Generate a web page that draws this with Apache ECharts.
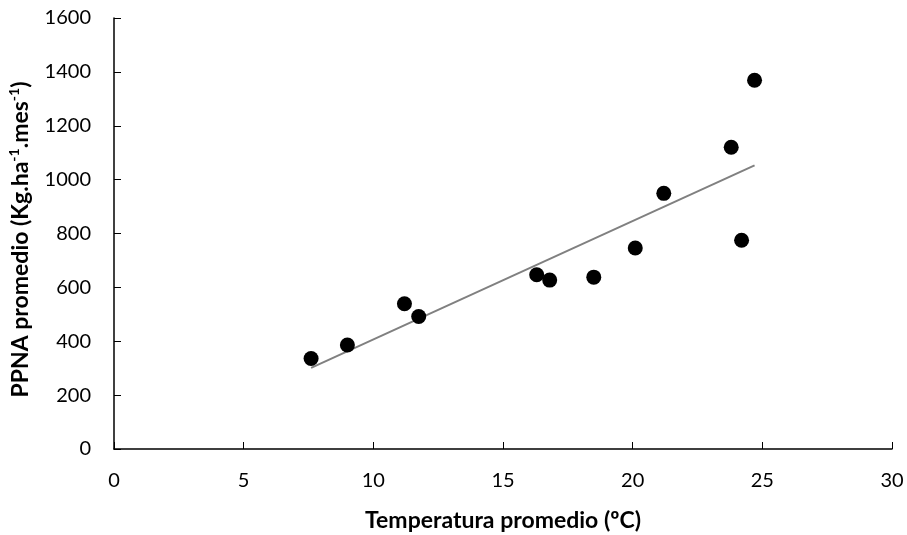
<!DOCTYPE html>
<html>
<head>
<meta charset="utf-8">
<script src="https://cdn.jsdelivr.net/npm/echarts@6/dist/echarts.min.js"></script>
<style>
  html, body { margin: 0; padding: 0; background: #fff; }
  #chart { width: 907px; height: 535px; }
</style>
</head>
<body>
<div id="chart"></div>
<script>
  // temperatura promedio (ºC) y PPNA promedio
  const temperatura = [7.6, 9.0, 11.2, 11.75, 16.3, 16.8, 18.5, 20.1, 21.2, 23.8, 24.2, 24.7];
  const ppna = [336, 386, 539, 492, 647, 627, 638, 746, 949, 1120, 775, 1369];

  const puntos = temperatura.map((t, i) => [t, ppna[i]]);

  // recta de tendencia lineal (minimos cuadrados)
  const n = temperatura.length;
  const mx = temperatura.reduce((a, b) => a + b, 0) / n;
  const my = ppna.reduce((a, b) => a + b, 0) / n;
  let sxy = 0, sxx = 0;
  for (let i = 0; i < n; i++) {
    sxy += (temperatura[i] - mx) * (ppna[i] - my);
    sxx += (temperatura[i] - mx) * (temperatura[i] - mx);
  }
  const pendiente = sxy / sxx;
  const ordenada = my - pendiente * mx;
  const xMin = Math.min(...temperatura);
  const xMax = Math.max(...temperatura);
  const tendencia = [
    [xMin, ordenada + pendiente * xMin],
    [xMax, ordenada + pendiente * xMax]
  ];

  const font = 'Lato, "Open Sans", sans-serif';
  const chart = echarts.init(document.getElementById('chart'));
  chart.setOption({
    animation: false,
    grid: { left: 114, right: 15, top: 18, bottom: 86, containLabel: false, outerBoundsMode: 'none' },
    xAxis: {
      type: 'value',
      min: 0,
      max: 30,
      interval: 5,
      name: 'Temperatura promedio (ºC)',
      nameLocation: 'middle',
      nameGap: 60,
      nameTextStyle: { color: '#000', fontSize: 23, fontWeight: 'bold', fontFamily: font },
      axisLine: { lineStyle: { color: '#000', width: 1.5 } },
      axisTick: { show: true, inside: true, length: 7, lineStyle: { color: '#000' } },
      axisLabel: { color: '#000', fontSize: 20, fontFamily: font, margin: 22 },
      splitLine: { show: false }
    },
    yAxis: {
      type: 'value',
      min: 0,
      max: 1600,
      interval: 200,
      name: '{t|PPNA promedio (Kg.ha}{s|-1}{t|.mes}{s|-1}{t|)}',
      nameLocation: 'middle',
      nameRotate: 90,
      nameGap: 80,
      nameTextStyle: {
        color: '#000',
        fontFamily: font,
        padding: [0, 12, 0, 0],
        rich: {
          t: { fontSize: 23, fontWeight: 'bold', fontFamily: font, color: '#000', lineHeight: 27 },
          s: { fontSize: 14, fontWeight: 'bold', fontFamily: font, color: '#000', verticalAlign: 'top', lineHeight: 27, padding: [0, 0, 12, 0] }
        }
      },
      axisLine: { show: true, lineStyle: { color: '#000', width: 1.5 } },
      axisTick: { show: true, inside: true, length: 7, lineStyle: { color: '#000' } },
      axisLabel: {
        color: '#000',
        fontSize: 20,
        fontFamily: font,
        margin: 23,
        formatter: (v) => String(v)
      },
      splitLine: { show: false }
    },
    series: [
      {
        type: 'line',
        data: tendencia,
        symbol: 'none',
        lineStyle: { color: '#808080', width: 2 },
        z: 1
      },
      {
        type: 'scatter',
        data: puntos,
        symbolSize: 15,
        itemStyle: { color: '#000', opacity: 1 },
        z: 2
      }
    ]
  });
</script>
</body>
</html>
